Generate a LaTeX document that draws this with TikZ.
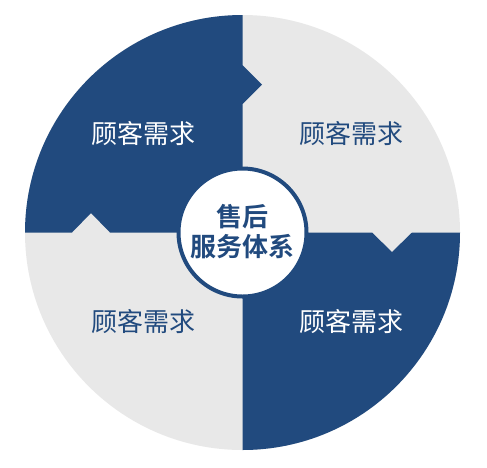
\documentclass[tikz,border=0pt]{standalone}
\usepackage{fontspec}
\newfontfamily\cjk{Noto Sans CJK SC}
\newfontfamily\cjkb{Noto Sans CJK SC Bold}
\definecolor{navy}{RGB}{33,74,126}
\definecolor{lightg}{RGB}{232,232,232}
\tikzset{
  quadtext/.style={font=\cjk\fontsize{26}{30}\selectfont, inner sep=0pt},
  centertext/.style={font=\cjkb\fontsize{26}{30.5}\selectfont, align=center, text=navy, inner sep=0pt},
}
\begin{document}
\begin{tikzpicture}[x=1pt,y=-1pt]
\useasboundingbox (0,0) rectangle (487,467);
\fill[white] (0,0) rectangle (487,467);
\begin{scope}
  \clip (242.5,232.5) circle (217.5);
  \fill[lightg] (0,0) rectangle (487,467);
  \fill[navy] (0,0) -- (242.5,0) -- (242.5,65) -- (262,84.5) -- (242.5,104) -- (242.5,232.5)
     -- (110,232.5) -- (91,213) -- (72,232.5) -- (0,232.5) -- cycle;
  \fill[navy] (242.5,232.5) -- (372,232.5) -- (392,252) -- (412,232.5) -- (487,232.5)
     -- (487,467) -- (242.5,467) -- cycle;
\end{scope}
\node[circle, fill=white, draw=navy, line width=4pt, minimum size=128pt, inner sep=0pt] (hub) at (242.5,232.5) {};
\node[centertext] (title) at (242.5,231.5) {售后\\服务体系};
\node[quadtext, text=white] (q1) at (143.8,133.5) {顾客需求};
\node[quadtext, text=navy] (q2) at (351,133.5) {顾客需求};
\node[quadtext, text=navy] (q3) at (143.8,322) {顾客需求};
\node[quadtext, text=white] (q4) at (351,322) {顾客需求};
\end{tikzpicture}
\end{document}
